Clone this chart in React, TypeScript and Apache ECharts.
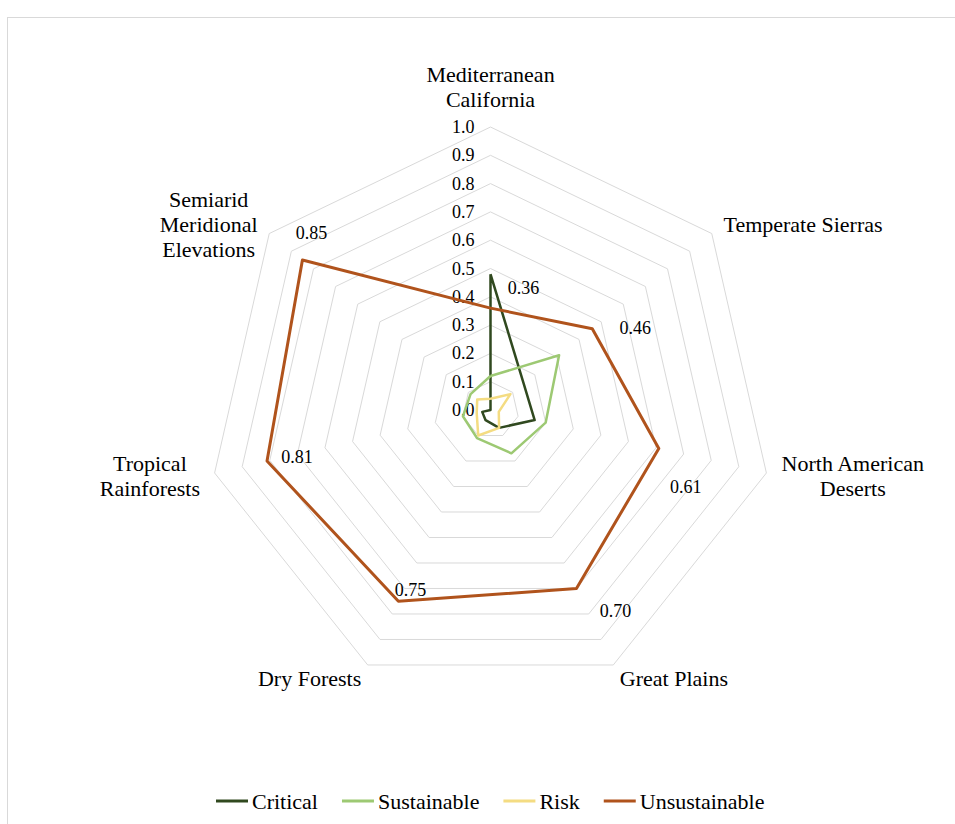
import React, { useEffect, useRef } from 'react';
import * as echarts from 'echarts';

// Categories in clockwise order starting at the top
const categories = [
  'Mediterranean\nCalifornia',
  'Temperate Sierras',
  'North American\nDeserts',
  'Great Plains',
  'Dry Forests',
  'Tropical\nRainforests',
  'Semiarid\nMeridional\nElevations',
];

const seriesNames = ['Critical', 'Sustainable', 'Risk', 'Unsustainable'];

const critical = [0.48, 0.15, 0.16, 0.07, 0.04, 0.03, 0.0];
const sustainable = [0.12, 0.31, 0.2, 0.17, 0.11, 0.1, 0.09];
const risk = [0.04, 0.09, 0.03, 0.07, 0.1, 0.05, 0.06];
const unsustainable = [0.36, 0.46, 0.61, 0.7, 0.75, 0.81, 0.85];

const axisMin = 0;
const axisMax = 1;
const splitCount = 10;

const colors = ['#30491F', '#9DC973', '#F4DC82', '#B0531C'];
const FONT = "'Liberation Serif', 'Times New Roman', serif";

// ECharts places indicators counter-clockwise; reorder so they run clockwise
const order = [0, 6, 5, 4, 3, 2, 1];
const reorder = <T,>(a: T[]): T[] => order.map((i) => a[i]);

// label offsets (dx, dy) from each Unsustainable vertex, in category order
const labelOffsets: [number, number][] = [
  [33, -20],
  [43, -1],
  [27, 39],
  [39, 23],
  [12, -11],
  [30, -4],
  [9, -27],
];

export default function App() {
  const ref = useRef<HTMLDivElement>(null);

  useEffect(() => {
    if (!ref.current) return;
    const chart = echarts.init(ref.current, null, { renderer: 'svg' });

    const rich: Record<string, any> = {};
    labelOffsets.forEach(([dx, dy], k) => {
      rich['o' + k] = {
        fontFamily: FONT,
        fontSize: 18,
        color: '#000',
        padding: [dy > 0 ? 2 * dy : 0, dx < 0 ? -2 * dx : 0, dy < 0 ? -2 * dy : 0, dx > 0 ? 2 * dx : 0],
      };
    });

    const dataSets = [critical, sustainable, risk, unsustainable];
    const widths = [2.5, 2.5, 2.5, 3];

    const series: any[] = dataSets.map((d, si) => {
      const isU = si === 3;
      return {
        type: 'radar',
        name: seriesNames[si],
        color: colors[si],
        symbol: isU ? 'circle' : 'none',
        symbolSize: isU ? 1 : 0,
        lineStyle: { color: colors[si], width: widths[si] },
        itemStyle: { color: colors[si] },
        z: 2 + si,
        label: isU
          ? {
              show: true,
              position: 'inside',
              formatter: (p: any) => {
                let dim = p.dimensionIndex;
                let k = dim != null ? order[dim] : unsustainable.indexOf(Number(p.value));
                if (k == null || k < 0) k = 0;
                return `{o${k}|${Number(p.value).toFixed(2)}}`;
              },
              rich,
            }
          : { show: false },
        data: [{ value: reorder(d), name: seriesNames[si] }],
      };
    });

    const option: any = {
      animation: false,
      backgroundColor: 'transparent',
      legend: {
        data: seriesNames,
        left: 216,
        top: 790,
        padding: 0,
        icon: 'rect',
        itemWidth: 32,
        itemHeight: 3,
        itemGap: 24,
        textStyle: { fontFamily: FONT, fontSize: 22, color: '#000', padding: [0, 0, 0, -1] },
      },
      radar: {
        center: [490.5, 410],
        radius: 283,
        startAngle: 90,
        shape: 'polygon',
        splitNumber: splitCount,
        axisNameGap: 15,
        nameGap: 15,
        indicator: reorder(categories).map((name, i) => {
          const ind: any = { name, min: axisMin, max: axisMax };
          if (i === 0) {
            ind.axisLabel = {
              show: true,
              fontFamily: FONT,
              fontSize: 18,
              color: '#000',
              margin: 16,
              formatter: (v: number) => Number(v).toFixed(1),
            };
          }
          return ind;
        }),
        axisName: {
          color: '#000',
          fontFamily: FONT,
          fontSize: 22,
          lineHeight: 25,
          formatter: (name: string) =>
            name
              .split('\n')
              .map((l) => `{n|${l}}`)
              .join('\n'),
          rich: {
            n: { align: 'center', fontFamily: FONT, fontSize: 22, lineHeight: 25, color: '#000' },
          },
        },
        axisLine: { show: false },
        axisTick: { show: false },
        axisLabel: { show: false },
        splitLine: { lineStyle: { color: '#d9d9d9', width: 1 } },
        splitArea: { show: false },
      },
      series,
    };

    chart.setOption(option);
    return () => chart.dispose();
  }, []);

  return (
    <div
      style={{
        position: 'fixed',
        left: 0,
        top: 0,
        width: 955,
        height: 824,
        overflow: 'hidden',
        background: '#fff',
      }}
    >
      <div
        style={{
          position: 'absolute',
          left: 7,
          top: 17,
          width: 2000,
          height: 2000,
          border: '1px solid #d9d9d9',
        }}
      />
      <div ref={ref} style={{ position: 'absolute', left: 0, top: 0, width: 955, height: 824 }} />
    </div>
  );
}
